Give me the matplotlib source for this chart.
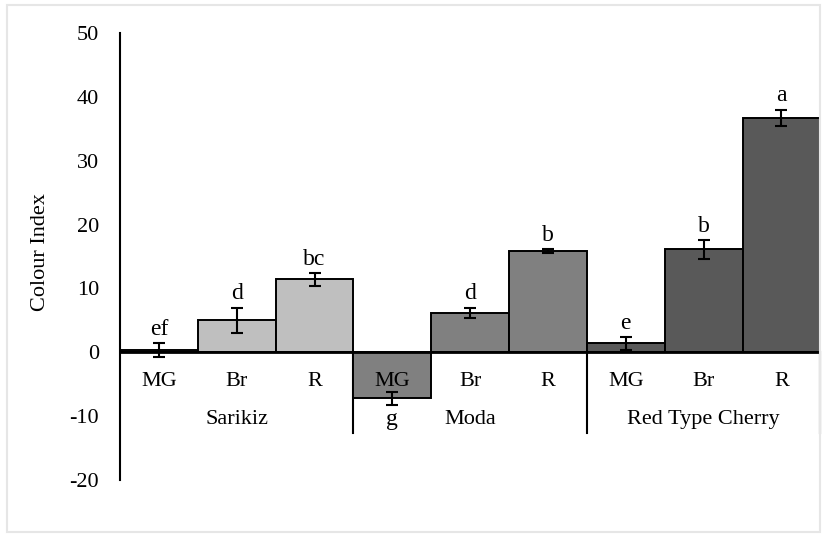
import matplotlib
matplotlib.use("Agg")
import matplotlib.pyplot as plt
from matplotlib.patches import Rectangle

plt.rcParams['font.family'] = ['Liberation Serif', 'DejaVu Serif']
plt.rcParams['axes.unicode_minus'] = False

cultivars = ["Sarikiz", "Moda", "Red Type Cherry"]
stages = ["MG", "Br", "R"]
values = [0.3, 5.0, 11.4, -7.2, 6.2, 15.8, 1.4, 16.1, 36.7]
errors = [1.1, 2.0, 1.0, 1.0, 0.8, 0.3, 1.0, 1.5, 1.3]
letters = ["ef", "d", "bc", "g", "d", "b", "e", "b", "a"]
colors = ["#bfbfbf"] * 3 + ["#808080"] * 3 + ["#595959"] * 3

fig = plt.figure(figsize=(8.22, 5.36), dpi=100)
fig.patches.append(Rectangle((0.008, 0.008), 0.99, 0.983, transform=fig.transFigure,
                             fill=False, edgecolor="#e6e6e6", linewidth=1.5))
ax = fig.add_axes([0.146, 0.1045, 0.852, 0.834])

x = [i + 0.5 for i in range(len(values))]
ax.bar(x, values, width=1.0, color=colors, edgecolor="black", linewidth=1.4, zorder=2)
ax.errorbar(x, values, yerr=errors, fmt="none", ecolor="black", elinewidth=1.5,
            capsize=4, capthick=1.5, zorder=3)

for xi, v, e, lab in zip(x, values, errors, letters):
    if v >= 0:
        ax.text(xi, v + e + 0.5, lab, ha="center", va="bottom", fontsize=17)
    else:
        ax.text(xi, v - e - 0.7, lab, ha="center", va="top", fontsize=17)

ax.set_xlim(0, 9)
ax.set_ylim(-20, 50)
ax.set_yticks(range(-20, 51, 10))
ax.tick_params(axis="y", length=0, labelsize=16, pad=15)
ax.set_xticks([])
for s in ["top", "right", "bottom"]:
    ax.spines[s].set_visible(False)
ax.spines["left"].set_linewidth(1.5)
ax.axhline(0, color="black", linewidth=2.0, zorder=4)

for i, xi in enumerate(x):
    ax.text(xi, -4.5, stages[i % 3], ha="center", va="center", fontsize=16, zorder=5)
for g, name in enumerate(cultivars):
    ax.text(g * 3 + 1.5, -10.6, name, ha="center", va="center", fontsize=16)
for xs in [3, 6, 9]:
    ax.plot([xs, xs], [0, -12.6], color="black", linewidth=1.5, clip_on=False, zorder=1)

ax.set_ylabel("Colour Index", fontsize=16)
ax.yaxis.set_label_coords(-0.1, 0.51)

fig.savefig("out.png", dpi=100)
